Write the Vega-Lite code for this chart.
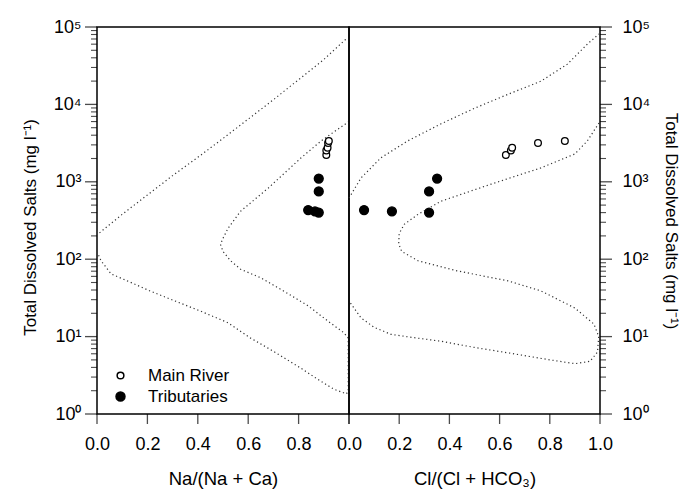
{
  "$schema": "https://vega.github.io/schema/vega-lite/v6.json",
  "padding": {"left": 20, "top": 17, "right": 5, "bottom": 0},
  "spacing": 0,
  "bounds": "flush",
  "config": {
    "view": {"stroke": "black", "strokeWidth": 1.5},
    "font": "Liberation Sans",
    "axis": {
      "grid": false,
      "ticks": false,
      "domain": false,
      "labelFont": "Liberation Sans",
      "labelFontSize": 18,
      "labelColor": "black",
      "titleFont": "Liberation Sans",
      "titleFontSize": 17,
      "titleFontWeight": "normal",
      "titleColor": "black"
    },
    "legend": {
      "labelFont": "Liberation Sans",
      "labelFontSize": 17,
      "labelColor": "black"
    }
  },
  "datasets": {
    "samples": [
      {"type": "Main River", "na": 0.91, "cl": 0.625, "tds": 2220},
      {"type": "Main River", "na": 0.91, "cl": 0.645, "tds": 2540},
      {"type": "Main River", "na": 0.915, "cl": 0.65, "tds": 2760},
      {"type": "Main River", "na": 0.917, "cl": 0.753, "tds": 3170},
      {"type": "Main River", "na": 0.92, "cl": 0.86, "tds": 3370},
      {"type": "Tributaries", "na": 0.88, "cl": 0.351, "tds": 1100},
      {"type": "Tributaries", "na": 0.88, "cl": 0.319, "tds": 750},
      {"type": "Tributaries", "na": 0.838, "cl": 0.06, "tds": 432},
      {"type": "Tributaries", "na": 0.865, "cl": 0.171, "tds": 415},
      {"type": "Tributaries", "na": 0.88, "cl": 0.319, "tds": 400}
    ],
    "yticks": [
      {"v": 1, "kind": "major"}, {"v": 2, "kind": "minor"}, {"v": 3, "kind": "minor"}, {"v": 4, "kind": "minor"}, {"v": 5, "kind": "minor"}, {"v": 6, "kind": "minor"}, {"v": 7, "kind": "minor"}, {"v": 8, "kind": "minor"}, {"v": 9, "kind": "minor"},
      {"v": 10, "kind": "major"}, {"v": 20, "kind": "minor"}, {"v": 30, "kind": "minor"}, {"v": 40, "kind": "minor"}, {"v": 50, "kind": "minor"}, {"v": 60, "kind": "minor"}, {"v": 70, "kind": "minor"}, {"v": 80, "kind": "minor"}, {"v": 90, "kind": "minor"},
      {"v": 100, "kind": "major"}, {"v": 200, "kind": "minor"}, {"v": 300, "kind": "minor"}, {"v": 400, "kind": "minor"}, {"v": 500, "kind": "minor"}, {"v": 600, "kind": "minor"}, {"v": 700, "kind": "minor"}, {"v": 800, "kind": "minor"}, {"v": 900, "kind": "minor"},
      {"v": 1000, "kind": "major"}, {"v": 2000, "kind": "minor"}, {"v": 3000, "kind": "minor"}, {"v": 4000, "kind": "minor"}, {"v": 5000, "kind": "minor"}, {"v": 6000, "kind": "minor"}, {"v": 7000, "kind": "minor"}, {"v": 8000, "kind": "minor"}, {"v": 9000, "kind": "minor"},
      {"v": 10000, "kind": "major"}, {"v": 20000, "kind": "minor"}, {"v": 30000, "kind": "minor"}, {"v": 40000, "kind": "minor"}, {"v": 50000, "kind": "minor"}, {"v": 60000, "kind": "minor"}, {"v": 70000, "kind": "minor"}, {"v": 80000, "kind": "minor"}, {"v": 90000, "kind": "minor"},
      {"v": 100000, "kind": "major"}
    ],
    "xticks": [{"v": 0}, {"v": 0.2}, {"v": 0.4}, {"v": 0.6}, {"v": 0.8}, {"v": 1.0}],
    "curves": [
      {"panel": "L", "curve": "a", "ord": 1, "x": 0.01, "y": 219},
      {"panel": "L", "curve": "a", "ord": 2, "x": 0.1, "y": 380},
      {"panel": "L", "curve": "a", "ord": 3, "x": 0.2, "y": 676},
      {"panel": "L", "curve": "a", "ord": 4, "x": 0.3, "y": 1202},
      {"panel": "L", "curve": "a", "ord": 5, "x": 0.41, "y": 2188},
      {"panel": "L", "curve": "a", "ord": 6, "x": 0.5, "y": 3631},
      {"panel": "L", "curve": "a", "ord": 7, "x": 0.6, "y": 6457},
      {"panel": "L", "curve": "a", "ord": 8, "x": 0.7, "y": 11482},
      {"panel": "L", "curve": "a", "ord": 9, "x": 0.8, "y": 20893},
      {"panel": "L", "curve": "a", "ord": 10, "x": 0.9, "y": 38019},
      {"panel": "L", "curve": "a", "ord": 11, "x": 0.99, "y": 70795},
      {"panel": "L", "curve": "b", "ord": 1, "x": 1.0, "y": 6026},
      {"panel": "L", "curve": "b", "ord": 2, "x": 0.89, "y": 3388},
      {"panel": "L", "curve": "b", "ord": 3, "x": 0.81, "y": 2042},
      {"panel": "L", "curve": "b", "ord": 4, "x": 0.68, "y": 832},
      {"panel": "L", "curve": "b", "ord": 5, "x": 0.57, "y": 417},
      {"panel": "L", "curve": "b", "ord": 6, "x": 0.52, "y": 251},
      {"panel": "L", "curve": "b", "ord": 7, "x": 0.5, "y": 186},
      {"panel": "L", "curve": "b", "ord": 8, "x": 0.49, "y": 155},
      {"panel": "L", "curve": "b", "ord": 9, "x": 0.5, "y": 126},
      {"panel": "L", "curve": "b", "ord": 10, "x": 0.53, "y": 95.5},
      {"panel": "L", "curve": "b", "ord": 11, "x": 0.57, "y": 74.1},
      {"panel": "L", "curve": "b", "ord": 12, "x": 0.65, "y": 57.5},
      {"panel": "L", "curve": "b", "ord": 13, "x": 0.74, "y": 38.9},
      {"panel": "L", "curve": "b", "ord": 14, "x": 0.837, "y": 25.1},
      {"panel": "L", "curve": "b", "ord": 15, "x": 0.917, "y": 15.8},
      {"panel": "L", "curve": "b", "ord": 16, "x": 0.98, "y": 11.2},
      {"panel": "L", "curve": "b", "ord": 17, "x": 0.997, "y": 9.55},
      {"panel": "L", "curve": "b", "ord": 18, "x": 0.997, "y": 2.0},
      {"panel": "L", "curve": "b", "ord": 19, "x": 0.99, "y": 1.82},
      {"panel": "L", "curve": "b", "ord": 20, "x": 0.94, "y": 2.09},
      {"panel": "L", "curve": "b", "ord": 21, "x": 0.875, "y": 2.82},
      {"panel": "L", "curve": "b", "ord": 22, "x": 0.81, "y": 3.89},
      {"panel": "L", "curve": "b", "ord": 23, "x": 0.7, "y": 6.46},
      {"panel": "L", "curve": "b", "ord": 24, "x": 0.61, "y": 9.55},
      {"panel": "L", "curve": "b", "ord": 25, "x": 0.52, "y": 15.1},
      {"panel": "L", "curve": "b", "ord": 26, "x": 0.41, "y": 21.4},
      {"panel": "L", "curve": "b", "ord": 27, "x": 0.31, "y": 28.8},
      {"panel": "L", "curve": "b", "ord": 28, "x": 0.21, "y": 38.9},
      {"panel": "L", "curve": "b", "ord": 29, "x": 0.12, "y": 52.5},
      {"panel": "L", "curve": "b", "ord": 30, "x": 0.056, "y": 64.6},
      {"panel": "L", "curve": "b", "ord": 31, "x": 0.016, "y": 95.5},
      {"panel": "L", "curve": "b", "ord": 32, "x": 0.004, "y": 117},
      {"panel": "R", "curve": "a", "ord": 1, "x": 0.0, "y": 617},
      {"panel": "R", "curve": "a", "ord": 2, "x": 0.048, "y": 1122},
      {"panel": "R", "curve": "a", "ord": 3, "x": 0.127, "y": 2042},
      {"panel": "R", "curve": "a", "ord": 4, "x": 0.235, "y": 3388},
      {"panel": "R", "curve": "a", "ord": 5, "x": 0.367, "y": 5623},
      {"panel": "R", "curve": "a", "ord": 6, "x": 0.5, "y": 8913},
      {"panel": "R", "curve": "a", "ord": 7, "x": 0.633, "y": 13490},
      {"panel": "R", "curve": "a", "ord": 8, "x": 0.765, "y": 19953},
      {"panel": "R", "curve": "a", "ord": 9, "x": 0.87, "y": 33113},
      {"panel": "R", "curve": "a", "ord": 10, "x": 0.95, "y": 60256},
      {"panel": "R", "curve": "a", "ord": 11, "x": 0.996, "y": 81283},
      {"panel": "R", "curve": "b", "ord": 1, "x": 0.996, "y": 5754},
      {"panel": "R", "curve": "b", "ord": 2, "x": 0.95, "y": 3388},
      {"panel": "R", "curve": "b", "ord": 3, "x": 0.9, "y": 2291},
      {"panel": "R", "curve": "b", "ord": 4, "x": 0.765, "y": 1514},
      {"panel": "R", "curve": "b", "ord": 5, "x": 0.566, "y": 933},
      {"panel": "R", "curve": "b", "ord": 6, "x": 0.367, "y": 562},
      {"panel": "R", "curve": "b", "ord": 7, "x": 0.275, "y": 380},
      {"panel": "R", "curve": "b", "ord": 8, "x": 0.22, "y": 282},
      {"panel": "R", "curve": "b", "ord": 9, "x": 0.2, "y": 214},
      {"panel": "R", "curve": "b", "ord": 10, "x": 0.198, "y": 158},
      {"panel": "R", "curve": "b", "ord": 11, "x": 0.21, "y": 126},
      {"panel": "R", "curve": "b", "ord": 12, "x": 0.275, "y": 95.5},
      {"panel": "R", "curve": "b", "ord": 13, "x": 0.43, "y": 70.8},
      {"panel": "R", "curve": "b", "ord": 14, "x": 0.633, "y": 52.5},
      {"panel": "R", "curve": "b", "ord": 15, "x": 0.765, "y": 38.9},
      {"panel": "R", "curve": "b", "ord": 16, "x": 0.9, "y": 23.4},
      {"panel": "R", "curve": "b", "ord": 17, "x": 0.976, "y": 14.5},
      {"panel": "R", "curve": "b", "ord": 18, "x": 0.995, "y": 10},
      {"panel": "R", "curve": "b", "ord": 19, "x": 0.99, "y": 6.31},
      {"panel": "R", "curve": "b", "ord": 20, "x": 0.96, "y": 4.79},
      {"panel": "R", "curve": "b", "ord": 21, "x": 0.9, "y": 4.47},
      {"panel": "R", "curve": "b", "ord": 22, "x": 0.8, "y": 5.01},
      {"panel": "R", "curve": "b", "ord": 23, "x": 0.633, "y": 6.17},
      {"panel": "R", "curve": "b", "ord": 24, "x": 0.5, "y": 7.24},
      {"panel": "R", "curve": "b", "ord": 25, "x": 0.367, "y": 8.71},
      {"panel": "R", "curve": "b", "ord": 26, "x": 0.25, "y": 9.77},
      {"panel": "R", "curve": "b", "ord": 27, "x": 0.167, "y": 10.7},
      {"panel": "R", "curve": "b", "ord": 28, "x": 0.1, "y": 13.2},
      {"panel": "R", "curve": "b", "ord": 29, "x": 0.048, "y": 17.4},
      {"panel": "R", "curve": "b", "ord": 30, "x": 0.0, "y": 28.8}
    ]
  },
  "hconcat": [
    {
      "width": 252,
      "height": 387,
      "layer": [
        {
          "data": {"name": "curves"},
          "transform": [{"filter": "datum.panel == 'L'"}],
          "mark": {"type": "line", "strokeDash": [1.2, 2.8], "strokeWidth": 1.2, "color": "#333333"},
          "encoding": {
            "x": {"field": "x", "type": "quantitative", "scale": {"domain": [0, 1], "nice": false},
              "axis": {"values": [0, 0.2, 0.4, 0.6, 0.8], "format": ".1f", "labelFlush": false, "labelPadding": 21, "titlePadding": 16, "titleFontSize": 18.5, "title": "Na/(Na + Ca)"}},
            "y": {"field": "y", "type": "quantitative", "scale": {"type": "log", "domain": [1, 100000], "nice": false},
              "axis": {"orient": "left", "title": "Total Dissolved Salts (mg l⁻¹)", "titleY": 200, "values": [1, 10, 100, 1000, 10000, 100000],
                "labelExpr": "datum.value == 1 ? '10⁰' : datum.value == 10 ? '10¹' : datum.value == 100 ? '10²' : datum.value == 1000 ? '10³' : datum.value == 10000 ? '10⁴' : '10⁵'",
                "labelOverlap": false, "labelFlush": false, "labelPadding": 16, "titlePadding": 14}},
            "detail": {"field": "curve"},
            "order": {"field": "ord", "type": "quantitative"}
          }
        },
        {
          "data": {"name": "samples"},
          "mark": {"type": "point", "shape": "circle", "filled": true, "stroke": "black", "strokeWidth": 1.3, "opacity": 1},
          "encoding": {
            "x": {"field": "na", "type": "quantitative", "scale": {"domain": [0, 1], "nice": false},
              "axis": {"values": [0, 0.2, 0.4, 0.6, 0.8], "format": ".1f", "labelFlush": false, "labelPadding": 21, "titlePadding": 16, "titleFontSize": 18.5, "title": "Na/(Na + Ca)"}},
            "y": {"field": "tds", "type": "quantitative", "scale": {"type": "log", "domain": [1, 100000], "nice": false},
              "axis": {"orient": "left", "title": "Total Dissolved Salts (mg l⁻¹)", "titleY": 200, "values": [1, 10, 100, 1000, 10000, 100000],
                "labelExpr": "datum.value == 1 ? '10⁰' : datum.value == 10 ? '10¹' : datum.value == 100 ? '10²' : datum.value == 1000 ? '10³' : datum.value == 10000 ? '10⁴' : '10⁵'",
                "labelOverlap": false, "labelFlush": false, "labelPadding": 16, "titlePadding": 14}},
            "fill": {"field": "type", "type": "nominal", "scale": {"domain": ["Main River", "Tributaries"], "range": ["white", "black"]},
              "legend": {"title": null, "orient": "none", "legendX": 15, "legendY": 340, "labelOffset": 19, "rowPadding": 3,
                "encode": {"symbols": {"update": {"stroke": {"value": "black"}, "strokeWidth": {"value": 1.3}}}}}},
            "size": {"field": "type", "type": "nominal", "scale": {"domain": ["Main River", "Tributaries"], "range": [45, 80]},
              "legend": {"title": null, "orient": "none", "legendX": 15, "legendY": 340, "labelOffset": 19, "rowPadding": 3,
                "encode": {"symbols": {"update": {"stroke": {"value": "black"}, "strokeWidth": {"value": 1.3}}}}}}
          }
        },
        {
          "data": {"name": "yticks"},
          "transform": [{"filter": "datum.kind == 'major'"}],
          "mark": {"type": "tick", "orient": "horizontal", "size": 12, "thickness": 1.3, "color": "black", "xOffset": -6},
          "encoding": {
            "y": {"field": "v", "type": "quantitative", "scale": {"type": "log", "domain": [1, 100000], "nice": false}},
            "x": {"datum": 0, "type": "quantitative", "scale": {"domain": [0, 1], "nice": false}}
          }
        },
        {
          "data": {"name": "yticks"},
          "transform": [{"filter": "datum.kind == 'minor'"}],
          "mark": {"type": "tick", "orient": "horizontal", "size": 6, "thickness": 1.1, "color": "black", "xOffset": -3},
          "encoding": {
            "y": {"field": "v", "type": "quantitative", "scale": {"type": "log", "domain": [1, 100000], "nice": false}},
            "x": {"datum": 0, "type": "quantitative", "scale": {"domain": [0, 1], "nice": false}}
          }
        },
        {
          "data": {"name": "xticks"},
          "mark": {"type": "tick", "orient": "vertical", "size": 10, "thickness": 1.3, "color": "black", "yOffset": 5},
          "encoding": {
            "x": {"field": "v", "type": "quantitative", "scale": {"domain": [0, 1], "nice": false}},
            "y": {"datum": 1, "type": "quantitative", "scale": {"type": "log", "domain": [1, 100000], "nice": false}}
          }
        }
      ]
    },
    {
      "width": 251,
      "height": 387,
      "layer": [
        {
          "data": {"name": "curves"},
          "transform": [{"filter": "datum.panel == 'R'"}],
          "mark": {"type": "line", "strokeDash": [1.2, 2.8], "strokeWidth": 1.2, "color": "#333333"},
          "encoding": {
            "x": {"field": "x", "type": "quantitative", "scale": {"domain": [0, 1], "nice": false},
              "axis": {"values": [0, 0.2, 0.4, 0.6, 0.8, 1.0], "format": ".1f", "labelFlush": false, "labelPadding": 21, "titlePadding": 16, "titleFontSize": 18.5, "title": "Cl/(Cl + HCO₃)"}},
            "y": {"field": "y", "type": "quantitative", "scale": {"type": "log", "domain": [1, 100000], "nice": false},
              "axis": {"orient": "right", "title": "Total Dissolved Salts (mg l⁻¹)", "values": [1, 10, 100, 1000, 10000, 100000],
                "labelExpr": "datum.value == 1 ? '10⁰' : datum.value == 10 ? '10¹' : datum.value == 100 ? '10²' : datum.value == 1000 ? '10³' : datum.value == 10000 ? '10⁴' : '10⁵'",
                "labelOverlap": false, "labelFlush": false, "labelPadding": 22, "titlePadding": 12}},
            "detail": {"field": "curve"},
            "order": {"field": "ord", "type": "quantitative"}
          }
        },
        {
          "data": {"name": "samples"},
          "mark": {"type": "point", "shape": "circle", "filled": true, "stroke": "black", "strokeWidth": 1.3, "opacity": 1},
          "encoding": {
            "x": {"field": "cl", "type": "quantitative", "scale": {"domain": [0, 1], "nice": false},
              "axis": {"values": [0, 0.2, 0.4, 0.6, 0.8, 1.0], "format": ".1f", "labelFlush": false, "labelPadding": 21, "titlePadding": 16, "titleFontSize": 18.5, "title": "Cl/(Cl + HCO₃)"}},
            "y": {"field": "tds", "type": "quantitative", "scale": {"type": "log", "domain": [1, 100000], "nice": false},
              "axis": {"orient": "right", "title": "Total Dissolved Salts (mg l⁻¹)", "values": [1, 10, 100, 1000, 10000, 100000],
                "labelExpr": "datum.value == 1 ? '10⁰' : datum.value == 10 ? '10¹' : datum.value == 100 ? '10²' : datum.value == 1000 ? '10³' : datum.value == 10000 ? '10⁴' : '10⁵'",
                "labelOverlap": false, "labelFlush": false, "labelPadding": 22, "titlePadding": 12}},
            "fill": {"field": "type", "type": "nominal", "scale": {"domain": ["Main River", "Tributaries"], "range": ["white", "black"]}, "legend": null},
            "size": {"field": "type", "type": "nominal", "scale": {"domain": ["Main River", "Tributaries"], "range": [45, 80]}, "legend": null}
          }
        },
        {
          "data": {"name": "yticks"},
          "transform": [{"filter": "datum.kind == 'major'"}],
          "mark": {"type": "tick", "orient": "horizontal", "size": 12, "thickness": 1.3, "color": "black", "xOffset": 6},
          "encoding": {
            "y": {"field": "v", "type": "quantitative", "scale": {"type": "log", "domain": [1, 100000], "nice": false}},
            "x": {"datum": 1, "type": "quantitative", "scale": {"domain": [0, 1], "nice": false}}
          }
        },
        {
          "data": {"name": "yticks"},
          "transform": [{"filter": "datum.kind == 'minor'"}],
          "mark": {"type": "tick", "orient": "horizontal", "size": 6, "thickness": 1.1, "color": "black", "xOffset": 3},
          "encoding": {
            "y": {"field": "v", "type": "quantitative", "scale": {"type": "log", "domain": [1, 100000], "nice": false}},
            "x": {"datum": 1, "type": "quantitative", "scale": {"domain": [0, 1], "nice": false}}
          }
        },
        {
          "data": {"name": "xticks"},
          "mark": {"type": "tick", "orient": "vertical", "size": 10, "thickness": 1.3, "color": "black", "yOffset": 5},
          "encoding": {
            "x": {"field": "v", "type": "quantitative", "scale": {"domain": [0, 1], "nice": false}},
            "y": {"datum": 1, "type": "quantitative", "scale": {"type": "log", "domain": [1, 100000], "nice": false}}
          }
        }
      ]
    }
  ]
}
